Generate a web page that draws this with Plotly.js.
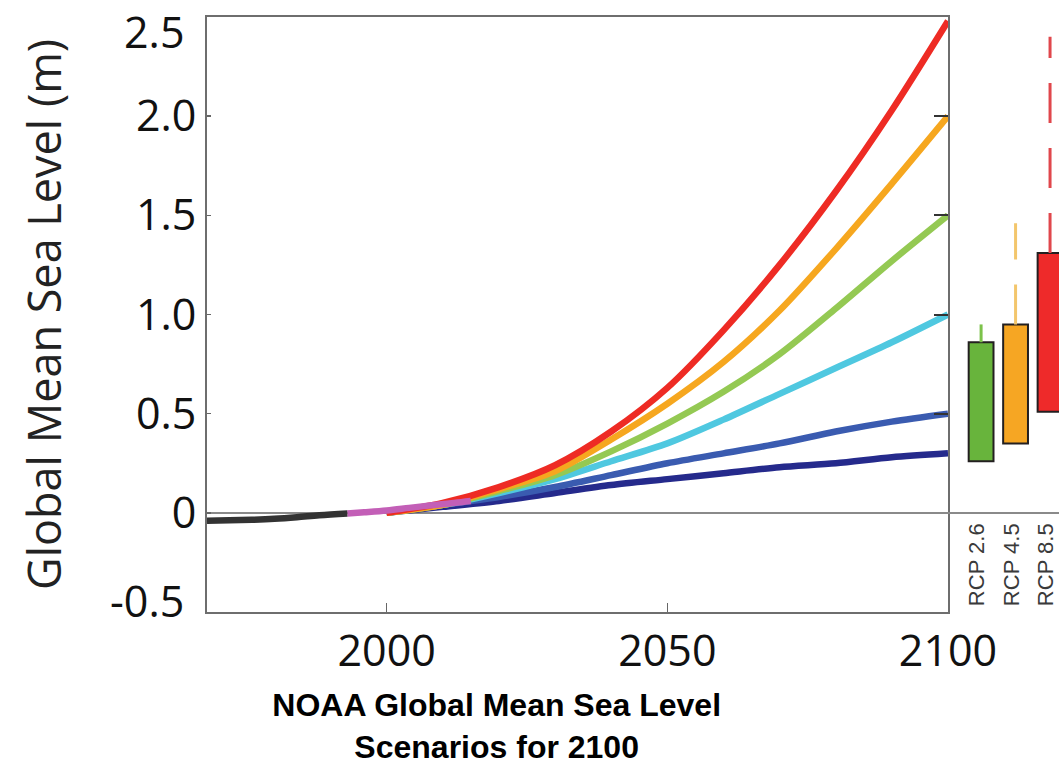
<!DOCTYPE html>
<html>
<head>
<meta charset="utf-8">
<script src="https://cdn.plot.ly/plotly-3.0.1.min.js"></script>
<style>html,body{margin:0;padding:0;background:#fff;}#chart{width:1059px;height:767px;}</style>
</head>
<body>
<div id="chart"></div>
<script>
// ---- Data ----
const scenarioYears = [2000, 2010, 2020, 2030, 2040, 2050, 2060, 2070, 2080, 2090, 2100];
const lowScenario          = [0, 0.03, 0.06, 0.10, 0.14, 0.17, 0.20, 0.23, 0.25, 0.28, 0.30];
const intLowScenario       = [0, 0.04, 0.08, 0.13, 0.19, 0.25, 0.30, 0.35, 0.41, 0.46, 0.50];
const intermediateScenario = [0, 0.04, 0.10, 0.17, 0.26, 0.35, 0.47, 0.60, 0.73, 0.86, 1.00];
const intHighScenario      = [0, 0.04, 0.11, 0.19, 0.31, 0.45, 0.61, 0.80, 1.03, 1.27, 1.50];
const highScenario         = [0, 0.04, 0.12, 0.21, 0.37, 0.55, 0.76, 1.02, 1.33, 1.66, 2.00];
const extremeScenario      = [0, 0.05, 0.13, 0.24, 0.41, 0.63, 0.92, 1.25, 1.62, 2.03, 2.48];

const histYears  = [1968, 1972, 1976, 1980, 1984, 1988, 1993];
const histValues = [-0.040, -0.038, -0.035, -0.030, -0.022, -0.012, -0.003];

const satYears  = [1993, 1996, 2000, 2004, 2008, 2012, 2015];
const satValues = [-0.003, 0.003, 0.012, 0.025, 0.038, 0.050, 0.060];

const rcpLabels  = ['RCP 2.6', 'RCP 4.5', 'RCP 8.5'];
const boxLow     = [0.26, 0.35, 0.51];
const boxHigh    = [0.86, 0.95, 1.31];
const whiskerTop = [0.95, 1.46, 2.40];

const xTickVals = [2000, 2050, 2100];
const yTickVals = [-0.5, 0, 0.5, 1.0, 1.5, 2.0, 2.5];
const yTickText = ['', '0', '0.5', '1.0', '1.5', '2.0', ''];
// end labels drawn just inside the axis ends, as in the reference
const yEndLabels = [{value: 2.5, text: '2.5', shift: -14}, {value: -0.5, text: '-0.5', shift: 12}];

// ---- Styles ----
const scenarioColors = ['#252a8c', '#3a5bb0', '#4fc8e0', '#94c953', '#f6a71f', '#ee2b24'];
const boxColors = ['#68b43c', '#f6a623', '#ee2a2a'];
const whiskerColors = ['#7cc24a', '#f3c66c', '#e0474c'];
const LW = 6.5;

const scenarios = [lowScenario, intLowScenario, intermediateScenario, intHighScenario, highScenario, extremeScenario];
const scenarioNames = ['Low', 'Intermediate-Low', 'Intermediate', 'Intermediate-High', 'High', 'Extreme'];

const traces = [];
scenarios.forEach((vals, i) => {
  traces.push({
    type: 'scatter', mode: 'lines', x: scenarioYears, y: vals, name: scenarioNames[i],
    line: {color: scenarioColors[i], width: LW, shape: 'spline', smoothing: 0.8},
    xaxis: 'x', yaxis: 'y', hoverinfo: 'x+y+name'
  });
});
traces.push({
  type: 'scatter', mode: 'lines', x: satYears, y: satValues, name: 'Satellite',
  line: {color: '#c35fb7', width: LW, shape: 'spline'}, xaxis: 'x', yaxis: 'y'
});
traces.push({
  type: 'scatter', mode: 'lines', x: histYears, y: histValues, name: 'Tide gauges',
  line: {color: '#333333', width: LW, shape: 'spline'}, xaxis: 'x', yaxis: 'y'
});

// Box (likely range) bars
traces.push({
  type: 'bar', x: rcpLabels, base: boxLow,
  y: boxHigh.map((h, i) => h - boxLow[i]),
  width: 0.72,
  marker: {color: boxColors, line: {color: '#231f20', width: 2}},
  xaxis: 'x2', yaxis: 'y', hoverinfo: 'x'
});
// Whiskers
rcpLabels.forEach((lab, i) => {
  traces.push({
    type: 'scatter', mode: 'lines', x: [lab, lab], y: [boxHigh[i], whiskerTop[i]],
    line: {color: whiskerColors[i], width: 3, dash: i === 0 ? 'solid' : '40px,25px'},
    xaxis: 'x2', yaxis: 'y', hoverinfo: 'skip'
  });
});
// invisible carrier for the right-hand tick axis
traces.push({
  type: 'scatter', mode: 'lines', x: scenarioYears, y: lowScenario,
  line: {width: 0}, opacity: 0, xaxis: 'x', yaxis: 'y3', hoverinfo: 'skip'
});

const tickFont = {family: 'Open Sans, Noto Sans, sans-serif', size: 43, color: '#111'};
const xDomainEnd = 741 / 852;

const annotations = yEndLabels.map(l => ({
  xref: 'paper', x: 0, xanchor: 'right', xshift: -21,
  yref: 'y', y: l.value, yanchor: 'middle', yshift: l.shift,
  text: l.text, showarrow: false, font: tickFont
}));

const layout = {
  width: 1059, height: 767,
  margin: {l: 207, r: 0, t: 17, b: 155, pad: 0},
  paper_bgcolor: '#fff', plot_bgcolor: '#fff',
  showlegend: false,
  bargap: 0,
  annotations: annotations,
  title: {
    text: '<b>NOAA Global Mean Sea Level<br>Scenarios for 2100</b>',
    font: {family: 'Liberation Sans, Arial, sans-serif', size: 32, color: '#000'},
    x: 0.469, xref: 'container', xanchor: 'center',
    y: 0.066, yref: 'container', yanchor: 'middle'
  },
  xaxis: {
    domain: [0, xDomainEnd], range: [1968, 2100], tickvals: xTickVals,
    ticks: 'inside', ticklen: 9, tickwidth: 1.5, tickcolor: '#666',
    showline: true, linecolor: '#6e6e6e', linewidth: 2, mirror: true,
    showgrid: false, zeroline: false, tickfont: tickFont, anchor: 'y'
  },
  yaxis: {
    domain: [0, 1], range: [-0.5, 2.5], tickvals: yTickVals, ticktext: yTickText,
    ticks: 'inside', ticklen: 4, tickwidth: 1.5, tickcolor: '#666',
    showline: true, linecolor: '#6e6e6e', linewidth: 2, mirror: true,
    showgrid: false, zeroline: true, zerolinecolor: '#8a8a8a', zerolinewidth: 1.5,
    tickfont: tickFont, anchor: 'x',
    title: {text: 'Global Mean Sea Level (m)', font: {family: 'Open Sans, Noto Sans, sans-serif', size: 45, color: '#222'}, standoff: 60}
  },
  yaxis3: {
    overlaying: 'y', side: 'right', anchor: 'x', range: [-0.5, 2.5],
    tickvals: [0.5, 1.0, 1.5, 2.0], ticks: 'inside', ticklen: 14, tickwidth: 2, tickcolor: '#333',
    showticklabels: false, showgrid: false, zeroline: false, showline: false
  },
  xaxis2: {
    domain: [xDomainEnd, 1], range: [-0.96, 2.26], type: 'category',
    anchor: 'free', position: 0.158, side: 'bottom',
    showline: false, showgrid: false, zeroline: false, ticks: '',
    tickangle: -90, ticklabelshift: -4,
    tickfont: {family: 'Liberation Sans Narrow, Arial Narrow, Liberation Sans, sans-serif', size: 22, color: '#3a3a3a'}
  }
};

Plotly.newPlot('chart', traces, layout, {displayModeBar: false, staticPlot: true});
</script>
</body>
</html>
